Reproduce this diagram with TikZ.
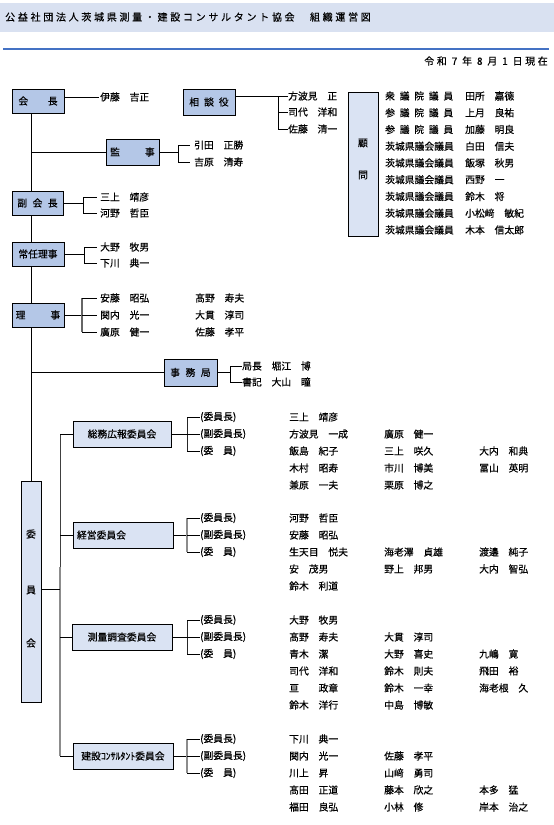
\documentclass[tikz,border=0pt]{standalone}
\usepackage{fontspec}
\newfontfamily\jp[FakeBold=0.4]{Noto Sans CJK JP}
\newcommand\jpf{\jp\fontsize{9.8}{11}\selectfont}
\definecolor{boxA}{HTML}{B4C7E7}
\definecolor{boxB}{HTML}{DAE3F3}
\definecolor{bandc}{HTML}{D9E1F1}
\definecolor{rulec}{HTML}{4472C4}
\tikzset{
  tx/.style={anchor=west, inner sep=0pt, font=\jpf},
  bxA/.style={draw, line width=1pt, fill=boxA, inner sep=0pt, font=\jpf},
  bxB/.style={bxA, fill=boxB},
  ln/.style={line width=0.8pt},
  gl/.style={line width=1.5pt, draw=black!45},
  thinb/.style={line width=0.8pt, draw=black!85},
}
\begin{document}
\begin{tikzpicture}[x=1pt,y=-1pt]
\useasboundingbox (0,0) rectangle (554,825);
\fill[bandc] (0,3) rectangle (554,32);
\node[tx, font={\jp\fontsize{10}{12}\selectfont\addfontfeature{LetterSpace=27}}] (title) at (5,17) {公益社団法人茨城県測量・建設コンサルタント協会　組織運営図};
\draw[line width=2pt, draw=rulec] (3,49) -- (549,49);
\node[tx, anchor=east, font={\jp\fontsize{10}{12}\selectfont\addfontfeature{LetterSpace=26}}] (date) at (548,61) {令和 7 年 8 月 1 日現在};

% ---- upper boxes
\node[bxA, minimum width=52pt, minimum height=24pt] (kaicho) at (38,101) {会　　長};
\node[bxA, minimum width=52pt, minimum height=26pt] (sodan) at (209,102) {相\hspace{5pt}談\hspace{5pt}役};
\node[bxB, minimum width=30pt, minimum height=144pt] (komon) at (363,164) {};
\node[tx, anchor=center] (komon1) at (363,143) {顧};
\node[tx, anchor=center] (komon2) at (363,175) {問};
\node[bxA, minimum width=53pt, minimum height=26pt] (kanji) at (132.5,152) {監\hspace{25pt}事};
\node[bxA, minimum width=51pt, minimum height=24pt] (fuku) at (37.5,203) {副\hspace{5.5pt}会\hspace{5.5pt}長};
\node[bxA, minimum width=52pt, minimum height=24pt] (jonin) at (38,254) {常任理事};
\node[bxA, minimum width=52pt, minimum height=24pt] (riji) at (38,315) {理\hspace{25pt}事};
\node[bxA, minimum width=53pt, minimum height=27pt] (jimu) at (190.5,372.5) {事\hspace{5.5pt}務\hspace{5.5pt}局};
\node[bxB, minimum width=20pt, minimum height=221pt] (iinkai) at (31,591.5) {};
\node[tx, anchor=center] (iin1) at (31,534) {委};
\node[tx, anchor=center] (iin2) at (31,590) {員};
\node[tx, anchor=center] (iin3) at (31,643) {会};
\coordinate (tr) at (31,0);

% ---- names upper
\node[tx] (ito) at (100,97) {伊藤　吉正};
\node[tx] (s1) at (288,96) {方波見　正};
\node[tx] (s2) at (288,112) {司代　洋和};
\node[tx] (s3) at (288,129) {佐藤　清一};
\node[tx] (m1) at (194,145) {引田　正勝};
\node[tx] (m2) at (194,162) {吉原　清寿};
\node[tx] (f1) at (100,197) {三上　靖彦};
\node[tx] (f2) at (100,213) {河野　哲臣};
\node[tx] (j1) at (100,247) {大野　牧男};
\node[tx] (j2) at (100,263) {下川　典一};
\node[tx] (r1) at (100,298) {安藤　昭弘};
\node[tx] (r2) at (100,315) {関内　光一};
\node[tx] (r3) at (100,332) {廣原　健一};
\node[tx] (r4) at (195,298) {髙野　寿夫};
\node[tx] (r5) at (195,315) {大貫　淳司};
\node[tx] (r6) at (195,332) {佐藤　孝平};
\node[tx] (jm1) at (242,366) {局長　堀江　博};
\node[tx] (jm2) at (242,382) {書記　大山　瞳};

% advisors
\foreach \i/\t/\n in {
  1/{衆\hfil 議\hfil 院\hfil 議\hfil 員}/田所　嘉德,
  2/{参\hfil 議\hfil 院\hfil 議\hfil 員}/上月　良祐,
  3/{参\hfil 議\hfil 院\hfil 議\hfil 員}/加藤　明良,
  4/茨城県議会議員/白田　信夫,
  5/茨城県議会議員/飯塚　秋男,
  6/茨城県議会議員/西野　一,
  7/茨城県議会議員/鈴木　将,
  8/茨城県議会議員/小松﨑　敏紀,
  9/茨城県議会議員/木本　信太郎}{
  \node[tx] (kt\i) at (385,{96+16.75*(\i-1)}) {\makebox[68pt][s]{\t}};
  \node[tx] (kn\i) at (465,{96+16.75*(\i-1)}) {\n};
}

% ---- upper connectors
\draw[ln] (kaicho.south -| tr) -- (fuku.north -| tr);
\draw[ln] (fuku.south -| tr) -- (jonin.north -| tr);
\draw[ln] (jonin.south -| tr) -- (riji.north -| tr);
\draw[ln] (riji.south -| tr) -- (iinkai.north);
\draw[ln] (kanji.west -| tr) -- (kanji.west);
\draw[ln] (jimu.west -| tr) -- (jimu.west);
\draw[ln, shorten >=1pt] (kaicho.east |- ito.west) -- (ito.west);
% sodan
\coordinate (sb) at (278,96);
\draw[ln] (sodan.east |- sb) -- (sb) -- (sb |- s3.west);
\draw[ln] (sb) -- (s1.west);
\draw[ln] (sb |- s2.west) -- (s2.west);
\draw[ln] (sb |- s3.west) -- (s3.west);
% kanji
\coordinate (kb) at (178,152);
\draw[ln] (kanji.east) -- (kb);
\draw[ln] (kb |- m1.west) -- (kb |- m2.west);
\draw[ln, shorten >=4pt] (kb |- m1.west) -- (m1.west);
\draw[ln, shorten >=4pt] (kb |- m2.west) -- (m2.west);
% fuku
\coordinate (fb) at (83,203);
\draw[ln] (fuku.east) -- (fb);
\draw[ln] (fb |- f1.west) -- (fb |- f2.west);
\draw[ln, shorten >=3pt] (fb |- f1.west) -- (f1.west);
\draw[ln, shorten >=3pt] (fb |- f2.west) -- (f2.west);
% jonin
\coordinate (jb) at (84,254);
\draw[ln] (jonin.east) -- (jb);
\draw[ln] (jb |- j1.west) -- (jb |- j2.west);
\draw[ln, shorten >=3pt] (jb |- j1.west) -- (j1.west);
\draw[ln, shorten >=3pt] (jb |- j2.west) -- (j2.west);
% riji
\coordinate (rb) at (82,315);
\draw[ln] (riji.east) -- (rb);
\draw[line width=1.2pt, draw=black!60] (rb |- r1.west) -- (rb |- r3.west);
\draw[ln, shorten >=3pt] (rb |- r1.west) -- (r1.west);
\draw[ln, shorten >=3pt] (rb |- r2.west) -- (r2.west);
\draw[ln, shorten >=3pt] (rb |- r3.west) -- (r3.west);
% jimu
\coordinate (jmb) at (230,372.5);
\draw[ln] (jimu.east) -- (jmb);
\draw[ln] (jmb |- jm1.west) -- (jmb |- jm2.west);
\draw[ln] (jmb |- jm1.west) -- (jm1.west);
\draw[ln] (jmb |- jm2.west) -- (jm2.west);

% ---- committees
\node[bxB, minimum width=98pt, minimum height=26pt] (c1) at (122,434) {総務広報委員会};
\node[bxB, minimum width=100pt, minimum height=26pt] (c2) at (123,535) {\makebox[92pt][l]{経営委員会}};
\node[bxB, minimum width=100pt, minimum height=26pt] (c3) at (122,637) {測量調査委員会};
\node[bxB, minimum width=100pt, minimum height=26pt] (c4) at (123,756) {建設ｺﾝｻﾙﾀﾝﾄ委員会};

\coordinate (gx) at (60,0);
\draw[line width=0.8pt, draw=black!75] (c1.west -| gx) -- (60,567);
\draw[gl] (60,567) -- (c4.west -| gx);
\draw[ln] (iinkai.east |- 0,589) -- (60,589);
\draw[ln] (c1.west -| gx) -- (c1.west);
\draw[ln] (c2.west -| gx) -- (c2.west);
\draw[ln] (c3.west -| gx) -- (c3.west);
\draw[ln] (c4.west -| gx) -- (c4.west);

% committee labels and brackets
\foreach \c/\y/\st in {1/417/thinb, 2/518/gl, 3/620/thinb, 4/739/gl}{
  \node[tx] (c\c l1) at (200,\y) {(委員長)};
  \node[tx] (c\c l2) at (200,\y+17) {(副委員長)};
  \node[tx] (c\c l3) at (200,\y+34) {(委　員)};
  \coordinate (c\c b) at (187,\y+17);
  \draw[ln] (c\c.east) -- (c\c.east -| c\c b);
  \draw[\st] (c\c b |- c\c l1.west) -- (c\c b |- c\c l3.west);
  \draw[ln] (c\c b |- c\c l1.west) -- (c\c l1.west);
  \draw[ln] (c\c b |- c\c l2.west) -- (c\c l2.west);
  \draw[ln] (c\c b |- c\c l3.west) -- (c\c l3.west);
}

% committee members: name / x / y
\foreach \k/\x/\y/\t in {
 a1/289/417/三上　靖彦,
 a2/289/434/方波見　一成, a3/384/434/廣原　健一,
 a4/289/451/飯島　紀子, a5/384/451/三上　咲久, a6/479/451/大内　和典,
 a7/289/468/木村　昭寿, a8/384/468/市川　博美, a9/479/468/冨山　英明,
 a10/289/485/兼原　一夫, a11/384/485/栗原　博之,
 b1/289/518/河野　哲臣,
 b2/289/535/安藤　昭弘,
 b3/289/552/生天目　悦夫, b4/384/552/海老澤　貞雄, b5/479/552/渡邉　純子,
 b6/289/569/安　茂男, b7/384/569/野上　邦男, b8/479/569/大内　智弘,
 b9/289/586/鈴木　利道,
 d1/289/620/大野　牧男,
 d2/289/637/髙野　寿夫, d3/384/637/大貫　淳司,
 d4/289/654/青木　潔, d5/384/654/大野　喜史, d6/479/654/九嶋　寛,
 d7/289/671/司代　洋和, d8/384/671/鈴木　則夫, d9/479/671/飛田　裕,
 d10/289/688/亘　　政章, d11/384/688/鈴木　一幸, d12/479/688/海老根　久,
 d13/289/705/鈴木　洋行, d14/384/705/中島　博敏,
 e1/289/739/下川　典一,
 e2/289/756/関内　光一, e3/384/756/佐藤　孝平,
 e4/289/773/川上　昇, e5/384/773/山﨑　勇司,
 e6/289/790/髙田　正道, e7/384/790/藤本　欣之, e8/479/790/本多　猛,
 e9/289/807/福田　良弘, e10/384/807/小林　修, e11/479/807/岸本　治之}{
  \node[tx] (m\k) at (\x,\y) {\t};
}
\end{tikzpicture}
\end{document}
